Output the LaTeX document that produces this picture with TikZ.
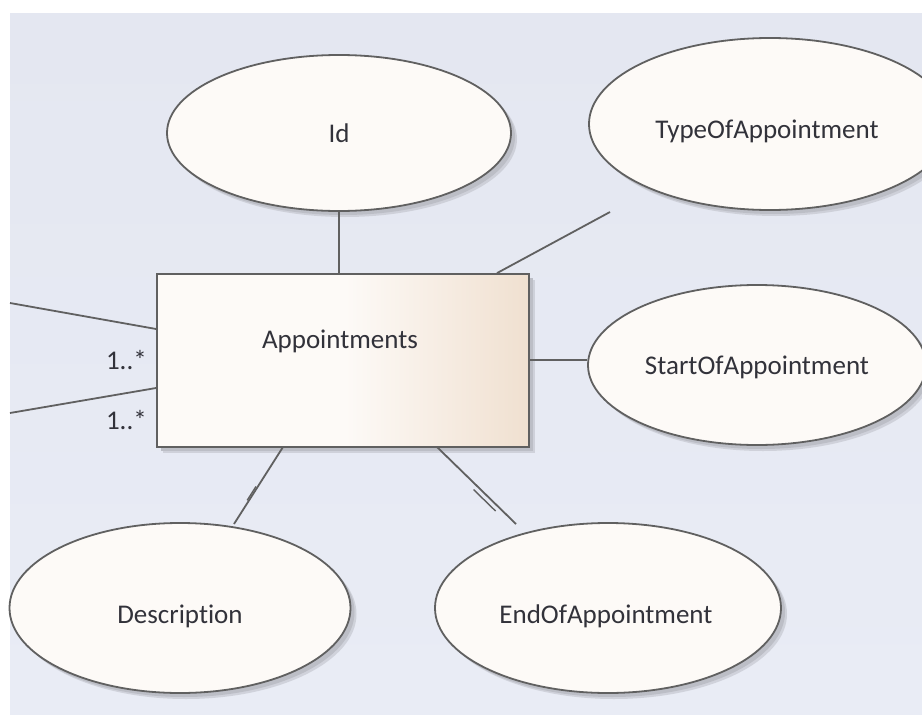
\documentclass[tikz,border=0pt]{standalone}
\usepackage{fontspec}
\setmainfont{Carlito}[Ligatures=NoCommon]
\usetikzlibrary{shapes.geometric,calc}
\definecolor{canvas}{RGB}{228,231,241}
\definecolor{canvaslow}{RGB}{233,236,245}
\definecolor{attrfill}{RGB}{253,250,247}
\definecolor{edgegray}{RGB}{96,96,96}
\definecolor{shadowgray}{RGB}{188,190,198}
\definecolor{peach}{RGB}{240,224,208}
\definecolor{inkgray}{RGB}{50,50,58}
\tikzset{
  attr/.style={ellipse, draw=edgegray, line width=1.8pt, fill=attrfill,
    inner sep=0pt, text=inkgray, font=\fontsize{27}{32}\selectfont},
  attrshadow/.style={ellipse, fill=shadowgray, inner sep=0pt, draw=none},
  label text/.style={text=inkgray, font=\fontsize{27}{32}\selectfont},
  link/.style={draw=edgegray, line width=1.8pt},
  mult/.style={text=inkgray, font=\fontsize{27}{32}\selectfont, anchor=east, inner sep=0pt},
}
\begin{document}
\begin{tikzpicture}[x=1pt,y=-1pt]
  % page and canvas
  \useasboundingbox (0,0) rectangle (922,715);
  \fill[white] (0,0) rectangle (922,715);
  \shade[top color=canvas, bottom color=canvaslow] (10,13) rectangle (922,714);

  % shadows
  \foreach \cx/\cy/\w/\h in {339/133/344/156, 770/124/362/172, 757/365/338/160,
                             180/608/341/170, 608/608/346/170}{
    \node[attrshadow, opacity=0.55, minimum width=\w pt, minimum height=\h pt] at (\cx+6,\cy+6) {};
    \node[attrshadow, minimum width=\w pt, minimum height=\h pt] at (\cx+4,\cy+4) {};
  }
  \fill[shadowgray, opacity=0.55] (163,280) rectangle (535,453);
  \fill[shadowgray] (161,278) rectangle (533,451);

  % entity: plain on the left, warming towards the right
  \fill[attrfill] (157,274) rectangle (345,447);
  \shade[left color=attrfill, right color=peach] (345,274) rectangle (529,447);
  \node[draw=edgegray, line width=1.8pt, minimum width=372pt, minimum height=173pt,
        inner sep=0pt] (ent) at (343,360.5) {};
  \node[label text] (entlabel) at (340,341) {Appointments};

  % attributes
  \node[attr, minimum width=344pt, minimum height=156pt] (id) at (339,133) {};
  \node[label text] (idlabel) at (339,133) {Id};
  \node[attr, minimum width=362pt, minimum height=172pt] (type) at (770,124) {};
  \node[label text] (typelabel) at (767,131) {TypeOfAppointment};
  \node[attr, minimum width=338pt, minimum height=160pt] (start) at (757,365) {};
  \node[label text] (startlabel) at (757,367) {StartOfAppointment};
  \node[attr, minimum width=341pt, minimum height=170pt] (desc) at (180,608) {};
  \node[label text] (desclabel) at (180,616) {Description};
  \node[attr, minimum width=346pt, minimum height=170pt] (endap) at (608,608) {};
  \node[label text] (endlabel) at (606,616) {EndOfAppointment};

  % free ends of connectors
  \coordinate (typeEnd) at (610,212);
  \coordinate (leftA) at (10,303);
  \coordinate (leftB) at (10,413);
  \coordinate (descEnd) at (234,524);
  \coordinate (endEnd) at (516,524);
  \coordinate (entDescFoot) at (283,447);
  \coordinate (entEndFoot) at (437,447);

  % connectors
  \draw[link] (id.south) -- (id.south |- ent.north);
  \draw[link] ([xshift=154pt]ent.north) -- (typeEnd);
  \draw[link] (ent.east |- 0,360) -- (start.west |- 0,360);
  \draw[link] (leftA) -- (ent.west |- 0,329);
  \draw[link] (leftB) -- (ent.west |- 0,388);
  \draw[link] (entDescFoot) -- (descEnd);
  \draw[link] (entEndFoot) -- (endEnd);
  % short doubled strokes on the lower connectors
  \draw[link, line width=1.4pt] ($(entDescFoot)!0.50!(descEnd)+(-2.5,1)$) -- ($(entDescFoot)!0.68!(descEnd)+(-2.5,1)$);
  \draw[link, line width=1.4pt] ($(entEndFoot)!0.50!(endEnd)+(-3,4)$) -- ($(entEndFoot)!0.78!(endEnd)+(-3,4)$);

  % multiplicities
  \node[mult] (multA) at (147,360) {1..*};
  \node[mult] (multB) at (147,420) {1..*};
\end{tikzpicture}
\end{document}
